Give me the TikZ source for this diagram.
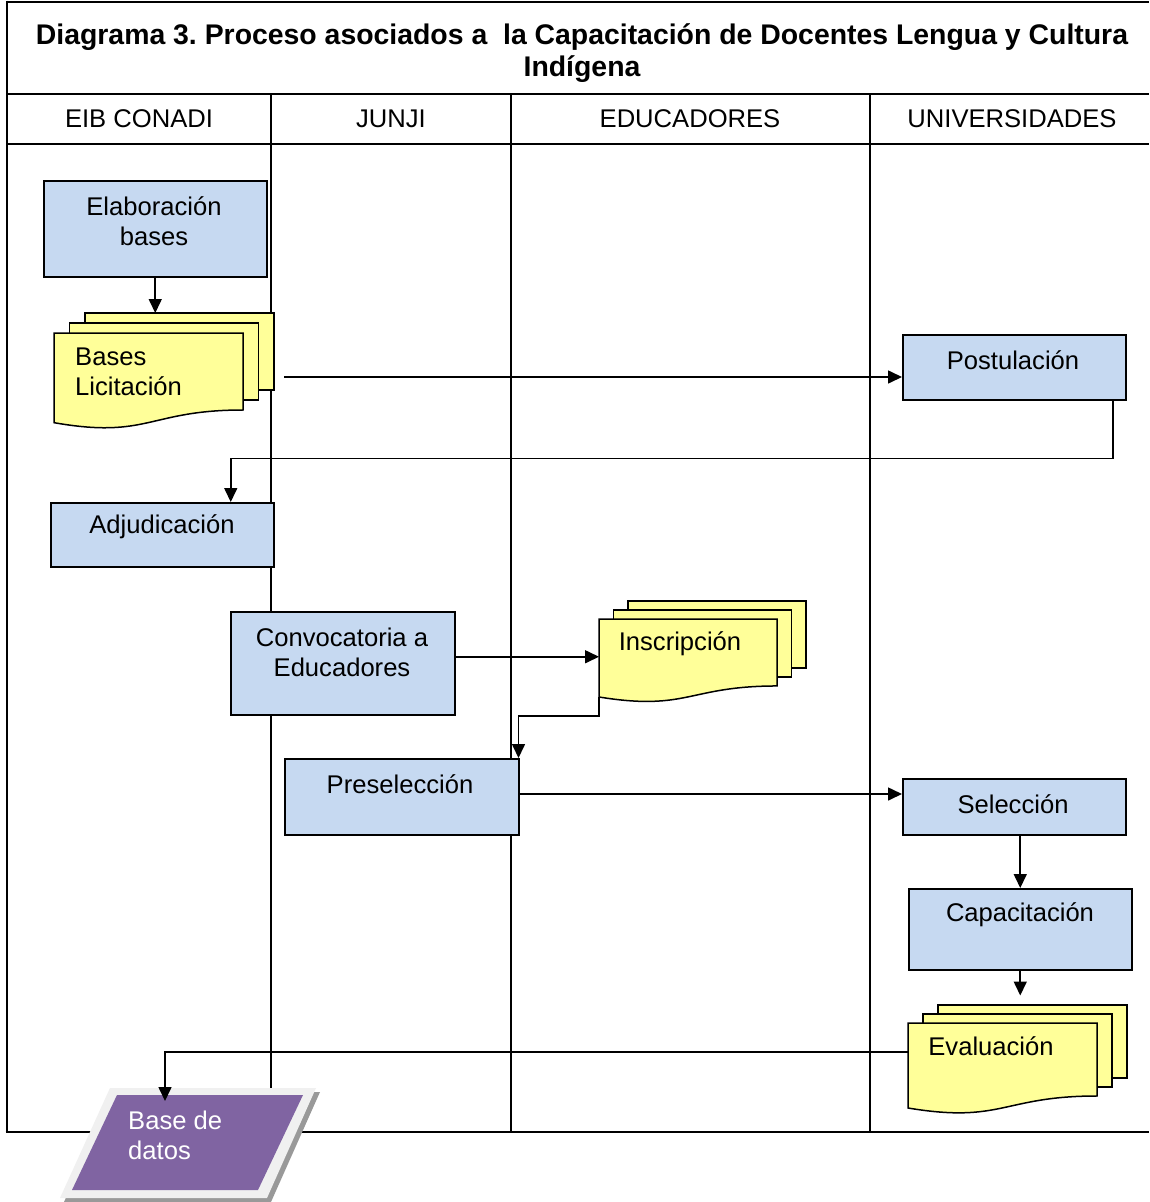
\documentclass[tikz,border=0pt]{standalone}
\usepackage{fontspec}
\setmainfont{Liberation Sans}
\usetikzlibrary{arrows.meta,fit}
\definecolor{boxblue}{HTML}{C6D9F1}
\definecolor{docyellow}{HTML}{FFFF99}
\definecolor{dbpurple}{HTML}{8064A2}
\newcommand\bodyfont{\fontsize{25.6}{30}\selectfont}
\newcommand\titlefont{\fontsize{28.4}{32}\selectfont\bfseries}
\frenchspacing
% multidocument: name, x0, y0, w, H, dx, dy
\newcommand\mdoc[7]{%
  \draw[docline] (#2+2*#6,#3-2*#7) rectangle (#2+#4+2*#6,#3+0.802*#5-2*#7);
  \draw[docline] (#2+#6,#3-#7) rectangle (#2+#4+#6,#3+0.802*#5-#7);
  \draw[docline] (#2,#3) -- (#2+#4,#3) -- (#2+#4,#3+0.802*#5)
     .. controls (#2+0.5*#4,#3+0.802*#5) and (#2+0.5*#4,#3+1.107*#5) .. (#2,#3+0.934*#5) -- cycle;
  \coordinate (#1-nw) at (#2,#3);
  \coordinate (#1-se) at (#2+#4,#3+0.934*#5);
  \coordinate (#1-top) at (#2+2*#6,#3-2*#7);
  \node[fit=(#1-nw)(#1-se),inner sep=0pt,outer sep=0pt] (#1) {};
}
\begin{document}
\begin{tikzpicture}[x=1pt,y=-1pt,
  lane/.style={line width=2.8pt},
  thinlane/.style={line width=1.5pt},
  box/.style={draw, line width=1.5pt, fill=boxblue, inner sep=0pt, anchor=north west},
  docline/.style={draw, line width=1.5pt, fill=docyellow, line join=miter},
  txt/.style={inner sep=0pt, align=center, font=\bodyfont},
  ltxt/.style={inner sep=0pt, align=left, font=\bodyfont, anchor=west},
  arr/.style={draw, line width=1.6pt, -{Triangle[length=14pt,width=13pt]}},
]
\useasboundingbox (0,0) rectangle (1149,1202);
\fill[white] (0,0) rectangle (1149,1202);

% frame and lanes
\draw[lane] (7,2) -- (1149,2);
\draw[lane] (7,0.6) -- (7,1133.4);
\draw[lane] (7,94) -- (1149,94);
\draw[lane] (7,144) -- (1149,144);
\draw[lane] (271,94) -- (271,1132);
\draw[lane] (511,94) -- (511,1132);
\draw[lane] (870,94) -- (870,1133.4);
\draw[lane] (5.6,1132) -- (870,1132);
\draw[thinlane] (870,1132) -- (1149,1132);

% title and headers
\node[inner sep=0pt, align=center, font=\titlefont] (title) at (582,53)
  {Diagrama 3. Proceso asociados a\ \ la Capacitación de Docentes Lengua y Cultura\\Indígena};
\node[txt] (h1) at (139,119) {EIB CONADI};
\node[txt] (h2) at (391,119) {JUNJI};
\node[txt] (h3) at (690,119) {EDUCADORES};
\node[txt] (h4) at (1012,119) {UNIVERSIDADES};

% process boxes
\node[box, minimum width=223pt, minimum height=96pt] (elab) at (43,180) {};
\node[txt] (elabt) at (154,221) {Elaboración\\bases};
\node[box, minimum width=223pt, minimum height=65pt] (post) at (902,334) {};
\node[txt] (postt) at (1013,360) {Postulación};
\node[box, minimum width=223pt, minimum height=64pt] (adj) at (50,502) {};
\node[txt] (adjt) at (162,527) {Adjudicación};
\node[box, minimum width=224pt, minimum height=103pt] (conv) at (230,611) {};
\node[txt] (convt) at (342,652) {Convocatoria a\\Educadores};
\node[box, minimum width=234pt, minimum height=76pt] (presel) at (284,758) {};
\node[txt] (preselt) at (400,784) {Preselección};
\node[box, minimum width=223pt, minimum height=56pt] (sel) at (902,778) {};
\node[txt] (selt) at (1013,804) {Selección};
\node[box, minimum width=223pt, minimum height=81pt] (cap) at (908,888) {};
\node[txt] (capt) at (1020,915) {Capacitación};

% documents
\mdoc{bases}{54}{333}{189}{96}{15.5}{10}
\node[ltxt] (basest) at (75,372) {Bases\\Licitación};
\mdoc{insc}{599}{619}{178}{83.5}{14.5}{9}
\node[txt] (insct) at (680,644) {Inscripción};
\mdoc{eval}{908}{1023}{189}{91}{15}{9}
\node[txt] (evalt) at (991,1046) {Evaluación};

% database parallelogram
\fill[black!40] (114,1092) -- (320,1092) -- (271,1202) -- (64,1202) -- cycle;
\fill[black!6] (110,1088) -- (316,1088) -- (267,1198) -- (60,1198) -- cycle;
\fill[dbpurple] (117,1095) -- (303,1095) -- (258,1190) -- (72,1190) -- cycle;
\node[ltxt, text=white] (dbt) at (128,1135) {Base de\\datos};
\coordinate (dbtop) at (165,1101);

% connectors
\draw[arr] (elab.south) -- (elab.south |- bases-top);
\coordinate (basesout) at (284,377);
\draw[arr] (basesout) -- (basesout -| post.west);
\draw[arr] ([xshift=98.5pt]post.south) -- ++(0,58) -| ([xshift=68.5pt]adj.north);
\coordinate (convout) at ([yshift=6.5pt]conv.east);
\draw[arr] (convout) -- (convout -| insc.west);
\draw[arr] (insc.south west) -- ++(0,19) -| ([xshift=-1pt]presel.north east);
\coordinate (preselout) at (518,794);
\draw[arr] (preselout) -- (preselout -| sel.west);
\draw[arr] (cap.north |- sel.south) -- (cap.north);
\draw[arr] (cap.south) -- ++(0,25);
\coordinate (evout) at (908,1052);
\draw[arr] (evout) -| (dbtop);
\end{tikzpicture}
\end{document}
